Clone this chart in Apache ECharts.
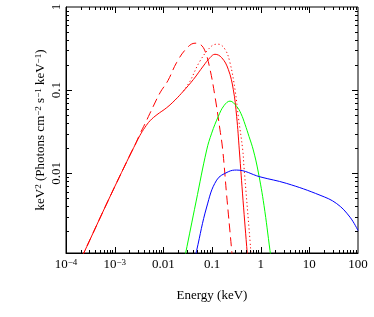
<!DOCTYPE html>
<html>
<head>
<meta charset="utf-8">
<script src="https://cdn.jsdelivr.net/npm/echarts@6/dist/echarts.min.js"></script>
<style>html,body{margin:0;padding:0;background:#fff;}#c{width:374px;height:317px;}</style>
</head>
<body>
<div id="c"></div>
<script>
// ---- data ----
const redSolidE = [2.03e-4, 2.27e-4, 7.40e-4, 2.066e-3, 2.62e-3, 3.31e-3, 4.20e-3, 5.32e-3, 7.41e-3, 0.01172, 0.01738, 0.0257, 0.0413, 0.0663, 0.091, 0.115, 0.158, 0.216, 0.274, 0.321, 0.364, 0.434, 0.531, 0.543];
const redSolidF = [0.00094, 0.00107, 0.00474, 0.0166, 0.0219, 0.0286, 0.0357, 0.0428, 0.0507, 0.0615, 0.0759, 0.0970, 0.134, 0.195, 0.246, 0.270, 0.246, 0.178, 0.1017, 0.0483, 0.0191, 0.00474, 0.00107, 0.0009];

const redDashE = [2.03e-4, 2.27e-4, 7.40e-4, 2.066e-3, 2.62e-3, 3.31e-3, 4.20e-3, 5.32e-3, 8.53e-3, 0.01247, 0.01884, 0.0302, 0.0448, 0.0567, 0.0718, 0.091, 0.115, 0.146, 0.166, 0.200, 0.254, 0.264];
const redDashF = [0.00094, 0.00107, 0.00474, 0.0166, 0.0219, 0.0298, 0.0394, 0.0528, 0.0927, 0.1306, 0.216, 0.319, 0.367, 0.357, 0.296, 0.178, 0.0844, 0.0333, 0.0191, 0.00545, 0.00118, 0.00091];

const redDotE = [0.0257, 0.0353, 0.0567, 0.0986, 0.1347, 0.185, 0.234, 0.297, 0.347, 0.428, 0.454, 0.604, 0.633, 0.647];
const redDotF = [0.0970, 0.128, 0.224, 0.340, 0.357, 0.310, 0.214, 0.1017, 0.0483, 0.0191, 0.0120, 0.00155, 0.00107, 0.00089];

const greenE = [0.0269, 0.0285, 0.0469, 0.0778, 0.0986, 0.1347, 0.1762, 0.2344, 0.321, 0.3945, 0.4766, 0.5754, 0.705, 0.893, 1.170, 1.554, 1.652];
const greenF = [0.00091, 0.00107, 0.00452, 0.0191, 0.0304, 0.0483, 0.0651, 0.0738, 0.0638, 0.0521, 0.0389, 0.0278, 0.0191, 0.01035, 0.00412, 0.00118, 0.00091];

const blueE = [0.0445, 0.0484, 0.0778, 0.1247, 0.216, 0.321, 0.968, 3.43, 16.6, 36.5, 68.4, 100];
const blueF = [0.00094, 0.00118, 0.00393, 0.00828, 0.01043, 0.01094, 0.00907, 0.00755, 0.00545, 0.00432, 0.00297, 0.00205];

const xTickValues = [1e-4, 1e-3, 0.01, 0.1, 1, 10, 100];
const xTickLabels = ['10{s|\u22124}', '10{s|\u22123}', '0.01', '0.1', '1', '10', '100'];
const yTickValues = [0.01, 0.1, 1];
const yTickLabels = ['0.01', '0.1', '1'];
const yTitle = 'keV{s|2} (Photons cm{s|\u22122} s{s|\u22121} keV{s|\u22121})';
const xTitle = 'Energy (keV)';

const xMin = 1e-4, xMax = 100, yMin = 0.0011, yMax = 1;
const xDecades = [1e-4, 1e-3, 0.01, 0.1, 1, 10];
const yDecades = [0.001, 0.01, 0.1];
const minorMult = [2, 3, 4, 5, 6, 7, 8, 9];

// ---- helpers ----
const zip = (a, b) => a.map((v, i) => [v, b[i]]);
function labelFor(vals, labels) {
  return function (v) {
    for (let i = 0; i < vals.length; i++) {
      if (Math.abs(Math.log10(v) - Math.log10(vals[i])) < 1e-6) return labels[i];
    }
    return '';
  };
}

// tick list: [xValue, yValue, kind(0=x,1=y), major(1)/minor(0)]
const tickData = [];
xTickValues.forEach(v => { if (v > xMin && v < xMax) tickData.push([v, 0.01, 0, 1]); });
xDecades.forEach(d => minorMult.forEach(m => { const v = d * m; if (v > xMin && v < xMax) tickData.push([v, 0.01, 0, 0]); }));
yTickValues.forEach(v => { if (v > yMin && v < yMax) tickData.push([1, v, 1, 1]); });
yDecades.forEach(d => minorMult.forEach(m => { const v = d * m; if (v > yMin && v < yMax) tickData.push([1, v, 1, 0]); }));
const yLabelData = yTickValues.map((v, i) => [1, v, i]);

const FONT = 'Liberation Serif';
const supStyle = { fontFamily: FONT, fontSize: 9, color: '#000', verticalAlign: 'top', padding: [0, 0, 0, 0] };
const chart = echarts.init(document.getElementById('c'), null, { renderer: 'canvas' });

const lineBase = { type: 'line', showSymbol: false, symbol: 'none', smooth: 0.4, clip: true, z: 3 };

chart.setOption({
  animation: false,
  backgroundColor: '#fff',
  grid: { left: 66, right: 16, top: 7, bottom: 64, show: true, borderColor: '#000', borderWidth: 1, backgroundColor: 'transparent' },
  xAxis: {
    type: 'log', logBase: 10, min: xMin, max: xMax,
    name: xTitle, nameLocation: 'middle', nameGap: 36,
    nameTextStyle: { fontFamily: FONT, fontSize: 13, color: '#000' },
    axisLine: { lineStyle: { color: '#000', width: 1 } },
    axisTick: { show: false },
    splitLine: { show: false },
    axisLabel: { fontFamily: FONT, fontSize: 13, color: '#000', margin: 5, showMinLabel: true, showMaxLabel: true,
      rich: { s: supStyle },
      formatter: labelFor(xTickValues, xTickLabels) }
  },
  yAxis: {
    type: 'log', logBase: 10, min: yMin, max: yMax,
    name: yTitle, nameLocation: 'middle', nameGap: 19,
    nameTextStyle: { fontFamily: FONT, fontSize: 13, color: '#000', rich: { s: supStyle } },
    axisLine: { lineStyle: { color: '#000', width: 1 } },
    axisTick: { show: false },
    splitLine: { show: false },
    axisLabel: { show: false }
  },
  series: [
    Object.assign({}, lineBase, { name: 'red solid', data: zip(redSolidE, redSolidF), lineStyle: { color: '#ff0000', width: 1 } }),
    Object.assign({}, lineBase, { name: 'red dashed', data: zip(redDashE, redDashF), lineStyle: { color: '#ff0000', width: 1, type: [9, 5] } }),
    Object.assign({}, lineBase, { name: 'red dotted', data: zip(redDotE, redDotF), lineStyle: { color: '#ff0000', width: 1, type: [1.2, 2.6] } }),
    Object.assign({}, lineBase, { name: 'green', data: zip(greenE, greenF), lineStyle: { color: '#00ff00', width: 1 } }),
    Object.assign({}, lineBase, { name: 'blue', data: zip(blueE, blueF), lineStyle: { color: '#0000ff', width: 1 } }),
    {
      type: 'custom', name: 'ticks', z: 5, silent: true,
      encode: { x: 0, y: 1 },
      data: tickData,
      renderItem: function (params, api) {
        const cs = params.coordSys;
        const kind = api.value(2), major = api.value(3);
        const len = major ? 6 : 3;
        const style = { stroke: '#000', lineWidth: 1 };
        if (kind === 0) {
          const x = Math.round(api.coord([api.value(0), 0.01])[0]) + 0.5;
          const b = cs.y + cs.height, t = cs.y;
          return { type: 'group', children: [
            { type: 'line', shape: { x1: x, y1: b, x2: x, y2: b - len }, style: style },
            { type: 'line', shape: { x1: x, y1: t, x2: x, y2: t + len }, style: style }
          ] };
        } else {
          const y = Math.round(api.coord([1, api.value(1)])[1]) + 0.5;
          const l = cs.x, r = cs.x + cs.width;
          return { type: 'group', children: [
            { type: 'line', shape: { x1: l, y1: y, x2: l + len, y2: y }, style: style },
            { type: 'line', shape: { x1: r, y1: y, x2: r - len, y2: y }, style: style }
          ] };
        }
      }
    },
    {
      type: 'custom', name: 'yLabels', z: 5, silent: true,
      encode: { x: 0, y: 1 },
      data: yLabelData,
      renderItem: function (params, api) {
        const cs = params.coordSys;
        const p = api.coord([1, api.value(1)]);
        return {
          type: 'text',
          x: cs.x - 9, y: p[1],
          rotation: Math.PI / 2,
          style: {
            x: 0, y: 0,
            text: yTickLabels[api.value(2)],
            font: '13px "Liberation Serif"',
            fill: '#000',
            align: 'center', verticalAlign: 'middle',
            textAlign: 'center', textVerticalAlign: 'middle'
          }
        };
      }
    }
  ]
});
</script>
</body>
</html>
